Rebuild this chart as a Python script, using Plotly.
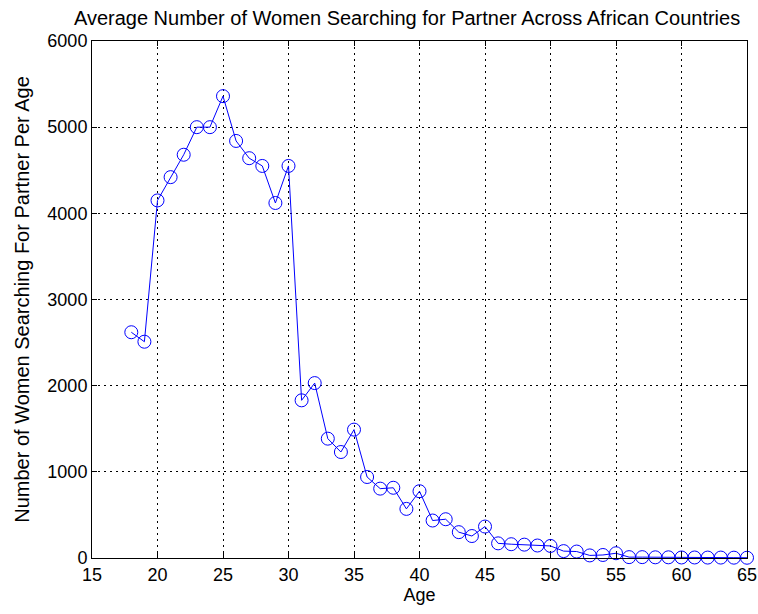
import plotly.graph_objects as go

ages = list(range(18, 66))
women = [2620, 2510, 4150, 4420, 4680, 5000, 5000, 5360, 4840, 4640, 4550, 4120, 4550,
         1830, 2030, 1385, 1230, 1490, 940, 805, 815, 570, 775, 435, 450, 300, 255, 365,
         170, 160, 155, 145, 140, 80, 75, 30, 35, 55, 10, 10, 8, 8, 6, 6, 5, 5, 4, 3]

x_ticks = [15, 20, 25, 30, 35, 40, 45, 50, 55, 60, 65]
y_ticks = [0, 1000, 2000, 3000, 4000, 5000, 6000]

title_text = "Average Number of Women Searching for Partner Across African Countries"
x_title = "Age"
y_title = "Number of Women Searching For Partner Per Age"

FONT = "Liberation Sans, Arial"

fig = go.Figure()
fig.add_trace(go.Scatter(
    x=ages, y=women, mode="lines+markers",
    line=dict(color="#0000ff", width=1),
    marker=dict(symbol="circle-open", size=13, color="#0000ff", line=dict(width=1)),
    cliponaxis=False,
))

axis_common = dict(
    showline=True, linecolor="black", linewidth=1, mirror="ticks",
    ticks="inside", ticklen=5, tickcolor="black",
    showgrid=True, gridcolor="black", gridwidth=1, griddash="2px,4px",
    zeroline=False, automargin=False,
    tickfont=dict(family=FONT, size=18, color="black"),
)

fig.update_layout(
    width=758, height=614,
    margin=dict(l=92, r=11, t=41, b=56),
    paper_bgcolor="white", plot_bgcolor="white",
    showlegend=False,
    title=dict(text=title_text, x=0.481, xanchor="center", xref="paper",
               y=1 - 18 / 614, yanchor="middle",
               font=dict(family=FONT, size=20, color="black")),
    xaxis=dict(range=[15, 65], tickvals=x_ticks, ticktext=[str(v) for v in x_ticks],
               title=dict(text=x_title, standoff=4,
                          font=dict(family=FONT, size=18, color="black")),
               **axis_common),
    yaxis=dict(range=[0, 6000], tickvals=y_ticks, ticktext=[str(v) for v in y_ticks],
               title=dict(text=y_title, standoff=12,
                          font=dict(family=FONT, size=20, color="black")),
               **axis_common),
)

fig.write_html("out.html")
